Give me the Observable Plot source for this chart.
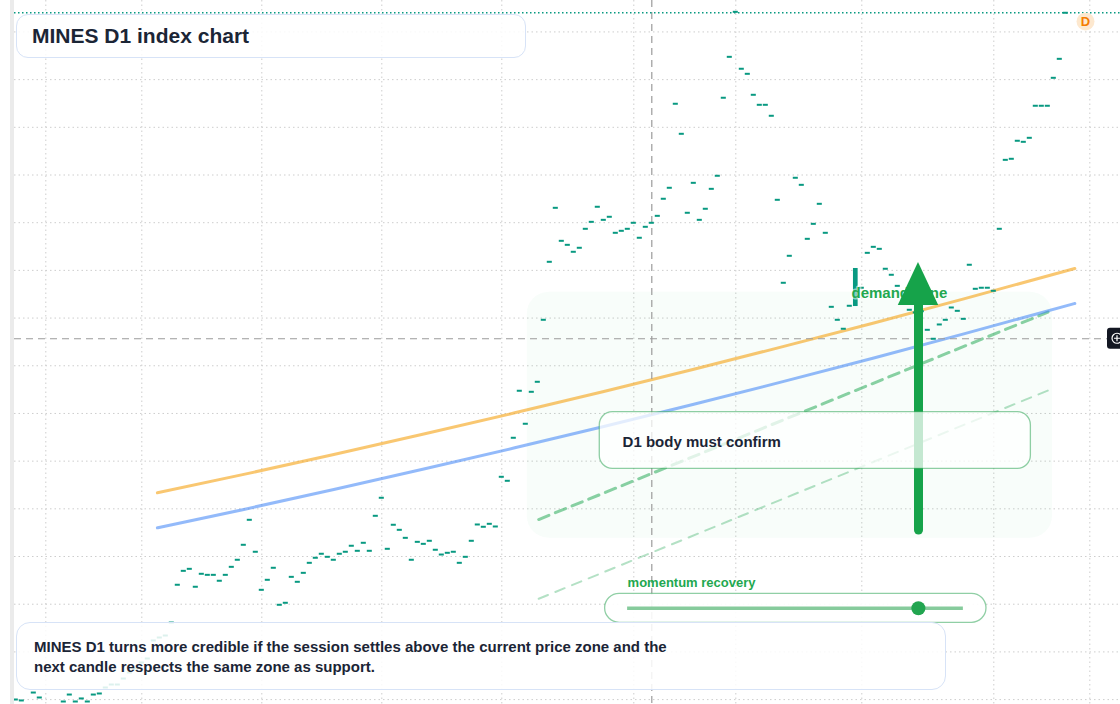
<!DOCTYPE html>
<html><head><meta charset="utf-8">
<script src="https://cdn.jsdelivr.net/npm/d3@7"></script>
<script src="https://cdn.jsdelivr.net/npm/@observablehq/plot@0.6"></script>
<style>
html,body{margin:0;padding:0;background:#fff;}
#wrap{position:relative;width:1120px;height:704px;overflow:hidden;font-family:"Liberation Sans",Arial,sans-serif;}
#strip{position:absolute;left:10px;top:0;width:4px;height:704px;background:#ebebeb;}
#chart{position:absolute;left:0;top:0;}
.box{position:absolute;box-sizing:border-box;border:1.5px solid #d7e3f7;background:rgba(255,255,255,0.86);color:#1b2536;font-weight:bold;}
#title{left:16px;top:14px;width:510px;height:44px;border-radius:12px;font-size:21px;line-height:41px;padding-left:15px;}
#caption{left:16px;top:622px;width:930px;height:68px;border-radius:14px;font-size:15px;line-height:20px;padding:14px 0 0 17px;}
</style></head>
<body>
<div id="wrap">
  <div id="strip"></div>
  <div id="chart"></div>
  <div id="title" class="box">MINES D1 index chart</div>
  <div id="caption" class="box">MINES D1 turns more credible if the session settles above the current price zone and the<br>next candle respects the same zone as support.</div>
</div>
<script>
// ---- data ----
const firstBar = 2;
const closes = [
  100.01, 99.91, 99.17, 100.74, 100.22, 99.07, 98.75, 99.28, 99.80, 100.53,
  99.80, 100.12, 99.80, 100.53, 100.64, 101.27, 101.58, 101.58, 102.21, 102.84,
  103.26, 103.89, 104.31, 106.20, 106.51, 106.72, 108.08, 112.04, 113.50, 113.71,
  111.83, 113.19, 113.08, 113.08, 112.46, 113.08, 113.92, 114.66, 116.23, 118.85,
  115.50, 111.51, 112.56, 113.82, 109.94, 110.15, 112.87, 112.35, 113.29, 114.34,
  114.87, 115.29, 114.97, 114.66, 115.29, 115.50, 116.13, 115.60, 116.44, 115.60,
  119.27, 121.16, 115.81, 118.33, 117.80, 116.96, 114.66, 116.54, 116.33, 116.65,
  115.71, 115.21, 115.39, 115.50, 114.34, 114.97, 116.65, 118.36, 118.12, 118.43,
  118.15, 123.36, 122.94, 127.45, 132.38, 128.92, 132.27, 133.32, 139.82, 145.90,
  151.56, 148.10, 147.68, 146.95, 147.37, 149.36, 150.09, 151.67, 150.30, 150.62,
  148.94, 149.15, 149.36, 149.99, 148.42, 149.57, 149.99, 150.72, 152.51, 153.66,
  162.47, 159.32, 151.04, 154.18, 150.30, 151.46, 153.55, 154.92, 163.10, 167.39,
  172.11, 166.14, 165.61, 163.41, 162.36, 162.36, 161.21, 152.40, 143.70, 146.53,
  154.71, 153.97, 148.31, 149.88, 151.98, 148.94, 141.18, 139.82, 138.88, 141.29,
  145.20, 143.18, 146.84, 147.47, 147.26, 145.17, 144.54, 143.38, 142.05, 140.87,
  140.59, 140.72, 138.77, 137.83, 139.33, 139.82, 141.11, 140.76, 139.92, 145.59,
  143.07, 143.18, 143.18, 142.86, 149.36, 156.59, 156.70, 158.59, 158.48, 158.90,
  162.26, 162.26, 162.26, 165.19, 167.18, 172.01
];
const bodyBars = [142];
const bodyOpens = [141.21];
const bodyCloses = [145.20];
const monthStartBars = [7, 23, 43, 63, 83, 105, 122, 143, 165, 181];
const priceGrid = [100,105,110,115,120,125,130,135,140,145,150,155,160,165,170];
const trendBars = [25.6, 40, 55, 70, 85, 100, 115, 130, 145, 160, 178.5];
const upperTrend = [121.68,123.61,125.70,127.84,130.04,132.30,134.64,137.03,139.48,142.01,145.20];
const lowerTrend = [118.01,119.94,122.03,124.17,126.37,128.63,130.97,133.36,135.81,138.34,141.53];
const projBars = [89.15, 174.03];
const projMain = [118.88, 140.62];
const projLow = [110.57, 132.41];
const crossBar = 108, crossPrice = 137.83;
const demandZone = {x1: 87.25, x2: 174.78, y1: 116.92, y2: 142.71};
const arrowBar = 152.45, arrowFrom = 117.73, arrowBase = 141.32, arrowTip = 145.83, arrowHalf = 3.37;
const momentum = 0.866;

// ---- derived tables ----
const bars = closes.map((c, i) => ({k: firstBar + i, c})).filter(d => !bodyBars.includes(d.k));
const bodies = bodyBars.map((k, i) => ({k, o: bodyOpens[i], c: bodyCloses[i]}));
const upper = trendBars.map((k, i) => ({k, v: upperTrend[i]}));
const lower = trendBars.map((k, i) => ({k, v: lowerTrend[i]}));
const pMain = projBars.map((k, i) => ({k, v: projMain[i]}));
const pLow = projBars.map((k, i) => ({k, v: projLow[i]}));
const lastClose = closes[closes.length - 1];
const head = [
  {k: arrowBar - arrowHalf, y1: arrowBase, y2: arrowBase},
  {k: arrowBar, y1: arrowBase, y2: arrowTip},
  {k: arrowBar + arrowHalf, y1: arrowBase, y2: arrowBase}
];
const slider = {x1: 103.97, x2: 159.93, y: 109.58};
const teal = "#089981", green = "#16a34a";
const font = '"Liberation Sans", Arial, sans-serif';

const chart = Plot.plot({
  width: 1120, height: 704,
  marginLeft: 14, marginRight: 0, marginTop: 0, marginBottom: 0,
  x: {domain: [1.783, 186.117], axis: null},
  y: {domain: [99.486, 173.296], axis: null},
  style: {background: "transparent", fontFamily: font, overflow: "visible"},
  marks: [
    Plot.ruleY(priceGrid, {stroke: "#cdcdcd", strokeWidth: 1, strokeDasharray: "1.5,3"}),
    Plot.ruleX(monthStartBars, {stroke: "#cdcdcd", strokeWidth: 1, strokeDasharray: "1.5,3"}),
    Plot.rect([demandZone], {x1: "x1", x2: "x2", y1: "y1", y2: "y2", fill: "#22c55e", fillOpacity: 0.03, rx: 22}),
    Plot.line(pLow, {x: "k", y: "v", stroke: green, strokeOpacity: 0.32, strokeWidth: 2, strokeDasharray: "10,8"}),
    Plot.line(pMain, {x: "k", y: "v", stroke: green, strokeOpacity: 0.5, strokeWidth: 3, strokeDasharray: "11,7"}),
    Plot.line(upper, {x: "k", y: "v", stroke: "#f59e0b", strokeOpacity: 0.58, strokeWidth: 3, curve: "monotone-x"}),
    Plot.line(lower, {x: "k", y: "v", stroke: "#3b82f6", strokeOpacity: 0.55, strokeWidth: 3, curve: "monotone-x"}),
    Plot.ruleY([crossPrice], {stroke: "#9b9b9b", strokeWidth: 1.2, strokeDasharray: "7,5"}),
    Plot.ruleX([crossBar], {stroke: "#9b9b9b", strokeWidth: 1.2, strokeDasharray: "7,5"}),
    Plot.ruleY([lastClose], {stroke: teal, strokeWidth: 1.3, strokeDasharray: "1.5,2.5"}),
    Plot.ruleY(bars, {y: "c", x1: d => d.k - 0.42, x2: d => d.k + 0.42, stroke: teal, strokeWidth: 2, clip: true}),
    Plot.rect(bodies, {x1: d => d.k - 0.39, x2: d => d.k + 0.39, y1: "o", y2: "c", fill: teal}),
    Plot.text(["demand zone"], {x: 141.28, y: 142.59, text: d => d, textAnchor: "start", fill: "#22a84f", fontSize: 15, fontWeight: "bold", stroke: "white", strokeOpacity: 0.55, strokeWidth: 3}),
    Plot.ruleX([arrowBar], {y1: arrowFrom, y2: arrowBase, stroke: green, strokeWidth: 9, strokeLinecap: "round"}),
    Plot.areaY(head, {x: "k", y1: "y1", y2: "y2", fill: green}),
    Plot.rect([{x1: 99.33, x2: 171.18, y1: 124.20, y2: 130.13}], {x1: "x1", x2: "x2", y1: "y1", y2: "y2", fill: "white", fillOpacity: 0.75, stroke: "#22a04b", strokeOpacity: 0.5, strokeWidth: 1.3, rx: 13}),
    Plot.text(["D1 body must confirm"], {x: 103.13, y: 126.97, text: d => d, textAnchor: "start", fill: "#1b2536", fontSize: 15, fontWeight: "bold"}),
    Plot.rect([{x1: 100.22, x2: 163.78, y1: 108.05, y2: 111.09}], {x1: "x1", x2: "x2", y1: "y1", y2: "y2", fill: "white", fillOpacity: 0.9, stroke: "#22a04b", strokeOpacity: 0.5, strokeWidth: 1.3, rx: 14.5}),
    Plot.ruleY([slider], {y: "y", x1: "x1", x2: "x2", stroke: "#22a04b", strokeOpacity: 0.55, strokeWidth: 3.5}),
    Plot.dot([slider], {x: d => d.x1 + momentum * (d.x2 - d.x1), y: "y", r: 7, fill: "#22a550"}),
    Plot.text(["momentum recovery"], {x: slider.x1, y: 112.22, text: d => d, textAnchor: "start", fill: "#22a84f", fontSize: 13, fontWeight: "bold"}),
    Plot.dot([0], {frameAnchor: "top-right", dx: -35, dy: 21, r: 9, fill: "#fde8cf"}),
    Plot.text(["D"], {frameAnchor: "top-right", dx: -35, dy: 21, textAnchor: "middle", lineAnchor: "middle", text: d => d, fill: "#f57c00", fontSize: 13, fontWeight: "bold"})
  ]
});
document.getElementById("chart").appendChild(chart);

// crosshair price badge on the right edge
const yc = chart.scale("y").apply(crossPrice);
const g = d3.select(chart).append("g");
g.append("rect").attr("x", 1107).attr("y", yc - 10.5).attr("width", 24).attr("height", 21).attr("rx", 3).attr("fill", "#131722");
g.append("circle").attr("cx", 1117).attr("cy", yc).attr("r", 5).attr("fill", "none").attr("stroke", "white").attr("stroke-width", 1.2);
g.append("path").attr("d", `M1114,${yc}H1120M1117,${yc - 3}V${yc + 3}`).attr("stroke", "white").attr("stroke-width", 1.2);
</script>
</body></html>
